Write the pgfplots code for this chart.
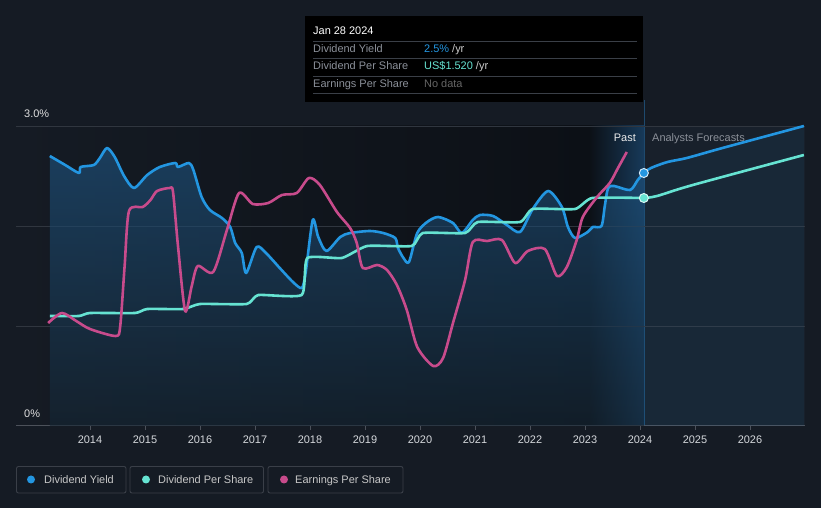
\documentclass[border=0pt]{standalone}
\usepackage{fontspec}
\setmainfont{Liberation Sans}
\usepackage{pgfplots}
\usepackage{pgfplotstable}
\pgfplotsset{compat=1.18}
\definecolor{bg}{HTML}{151B24}
\definecolor{darkbg}{HTML}{0C1016}
\definecolor{bandc}{HTML}{173A5A}
\definecolor{fcbg}{HTML}{18202B}
\definecolor{areatop}{HTML}{1F5684}
\definecolor{areabot}{HTML}{152634}
\definecolor{dyc}{HTML}{2396E1}
\definecolor{dpsc}{HTML}{66E3D2}
\definecolor{epsc}{HTML}{C84B8C}
\definecolor{gridc}{HTML}{30363F}
\definecolor{axisc}{HTML}{4C515A}
\definecolor{ticktext}{HTML}{D5D8DC}
\definecolor{graytext}{HTML}{8B9099}
\definecolor{legborder}{HTML}{3A3F48}
\definecolor{sepc}{HTML}{3A3F47}
\definecolor{vline}{HTML}{1E4A6E}
\newcommand{\ft}{\fontsize{11}{13}\selectfont}

\pgfplotstableread{
x y
2013.27 2.70
2013.55 2.61
2013.80 2.53
2013.83 2.59
2014.07 2.61
2014.18 2.68
2014.31 2.78
2014.45 2.69
2014.62 2.50
2014.80 2.38
2015.04 2.51
2015.27 2.59
2015.55 2.63
2015.60 2.59
2015.80 2.63
2015.88 2.56
2016.03 2.29
2016.18 2.16
2016.40 2.08
2016.55 1.99
2016.64 1.83
2016.76 1.73
2016.84 1.53
2017.03 1.79
2017.20 1.73
2017.45 1.58
2017.69 1.44
2017.85 1.38
2017.92 1.53
2018.05 2.06
2018.15 1.89
2018.30 1.75
2018.55 1.89
2018.73 1.93
2019.09 1.95
2019.33 1.93
2019.55 1.88
2019.60 1.78
2019.70 1.68
2019.80 1.64
2019.95 1.93
2020.13 2.04
2020.33 2.09
2020.60 2.03
2020.76 1.93
2020.96 2.06
2021.09 2.11
2021.33 2.10
2021.58 2.01
2021.82 1.94
2022.05 2.17
2022.33 2.35
2022.58 2.19
2022.69 1.99
2022.82 1.88
2023.05 1.94
2023.14 1.99
2023.30 2.00
2023.36 2.20
2023.42 2.38
2023.53 2.40
2023.82 2.36
2023.96 2.46
2024.07 2.53
}\dytab

\pgfplotstableread{
x y
2024.07 2.53
2024.20 2.58
2024.50 2.64
2024.85 2.68
2025.50 2.78
2026.98 3.00
}\dyfc

\pgfplotstableread{
x y
2013.27 1.10
2013.80 1.10
2014.00 1.13
2014.82 1.13
2015.04 1.17
2015.70 1.17
2016.00 1.22
2016.85 1.22
2017.06 1.31
2017.85 1.31
2017.95 1.68
2018.58 1.68
2019.04 1.80
2019.85 1.80
2020.05 1.93
2020.82 1.93
2021.05 2.04
2021.82 2.04
2022.05 2.17
2022.82 2.17
2023.13 2.28
2024.07 2.28
}\dpstab

\pgfplotstableread{
x y
2024.07 2.28
2024.31 2.30
2024.96 2.41
2026.98 2.71
}\dpsfc

\pgfplotstableread{
x y
2013.24 1.03
2013.49 1.13
2013.75 1.05
2014.00 0.97
2014.47 0.90
2014.55 1.00
2014.63 1.60
2014.71 2.15
2014.96 2.19
2015.10 2.26
2015.22 2.35
2015.45 2.38
2015.51 2.34
2015.60 1.80
2015.73 1.15
2015.85 1.40
2015.96 1.60
2016.24 1.54
2016.49 1.96
2016.71 2.33
2016.96 2.22
2017.24 2.23
2017.49 2.31
2017.76 2.33
2017.98 2.48
2018.18 2.41
2018.49 2.14
2018.73 1.98
2018.85 1.83
2018.96 1.58
2019.22 1.61
2019.40 1.56
2019.58 1.41
2019.76 1.16
2019.95 0.79
2020.24 0.60
2020.42 0.68
2020.60 1.03
2020.82 1.46
2020.96 1.84
2021.22 1.85
2021.49 1.86
2021.73 1.63
2021.96 1.75
2022.27 1.77
2022.49 1.50
2022.67 1.59
2022.85 1.86
2022.96 2.09
2023.22 2.29
2023.45 2.43
2023.60 2.58
2023.76 2.74
}\epstab

\begin{document}
\begin{tikzpicture}
\path[use as bounding box] (0,0) rectangle (821bp,508bp);
\begin{scope}[x=1bp,y=-1bp,shift={(0,508bp)}]
\fill[bg] (0,0) rectangle (821,508);
\fill[left color=bg, right color=darkbg] (16,126) rectangle (589,426);
\fill[left color=darkbg, right color=bandc] (589,126) rectangle (644,426);
\fill[fcbg] (644,126) rectangle (805,426);
\draw[vline, line width=0.8bp] (644.5,100) -- (644.5,426);
\end{scope}

\begin{axis}[
  at={(16bp,82bp)}, anchor=south west,
  scale only axis, width=789bp, height=300bp,
  xmin=2012.655, xmax=2027.0, ymin=0, ymax=3,
  clip=false,
  axis x line=bottom, axis y line=left,
  x axis line style={-, draw=axisc, line width=1bp},
  y axis line style={draw=none},
  xtick={2014,2015,...,2026},
  xticklabels={2014,2015,2016,2017,2018,2019,2020,2021,2022,2023,2024,2025,2026},
  xtick style={draw=axisc, line width=0.8bp},
  tick align=outside, major tick length=4bp,
  ytick={1,2,3}, yticklabels={}, ytick style={draw=none},
  ymajorgrids, grid style={draw=gridc, line width=0.8bp},
  xticklabel style={font=\ft, text=ticktext, inner sep=0pt, yshift=-6bp},
  /pgf/number format/assume math mode=true,
]
\addplot[draw=none, fill opacity=0.6, top color=areatop, bottom color=areabot, smooth, tension=0.45] table {\dytab} \closedcycle;
\addplot[draw=none, fill=dyc, fill opacity=0.07, smooth] table {\dyfc} \closedcycle;
\addplot[dyc, line width=2.6bp, smooth, tension=0.45, line join=round] table {\dytab};
\addplot[dyc, line width=2.6bp, smooth, tension=0.5] table {\dyfc};
\addplot[dpsc, line width=2.6bp, smooth, tension=0.3, line join=round] table {\dpstab};
\addplot[dpsc, line width=2.6bp, smooth, tension=0.5] table {\dpsfc};
\addplot[epsc, line width=2.6bp, smooth, tension=0.45, line join=round] table {\epstab};
\addplot[only marks, mark=*, mark size=4.5bp, color=dyc, mark options={solid, fill=dyc, draw=white!80!dyc, line width=1bp}] coordinates {(2024.07,2.53)};
\addplot[only marks, mark=*, mark size=4.5bp, color=dpsc, mark options={solid, fill=dpsc, draw=white!75!dpsc, line width=1bp}] coordinates {(2024.07,2.28)};
\end{axis}

\begin{scope}[x=1bp,y=-1bp,shift={(0,508bp)}]
\node[anchor=base east, inner sep=0pt, font=\ft, text=white!92!black] at (636,142) {Past};
\node[anchor=base west, inner sep=0pt, font=\ft, text=graytext] at (652,142) {Analysts Forecasts};
\node[anchor=base west, inner sep=0pt, font=\ft, text=white!88!black] at (24,118) {3.0\%};
\node[anchor=base west, inner sep=0pt, font=\ft, text=white!88!black] at (24,418) {0\%};
% tooltip
\fill[black] (305,16) rectangle (643,102);
\node[anchor=base west, inner sep=0pt, font=\ft, text=white] at (313,35) {Jan 28 2024};
\foreach \yy in {41,58,76,93} {\draw[sepc, line width=0.8bp] (313,\yy) -- (637,\yy);}
\node[anchor=base west, inner sep=0pt, font=\ft, text=graytext] at (313,53) {Dividend Yield};
\node[anchor=base west, inner sep=0pt, font=\ft, text=graytext] at (313,70) {Dividend Per Share};
\node[anchor=base west, inner sep=0pt, font=\ft, text=graytext] at (313,88) {Earnings Per Share};
\node[anchor=base west, inner sep=0pt, font=\ft] at (424,53) {\textcolor{dyc}{2.5\%}~\textcolor{white!80!black}{/yr}};
\node[anchor=base west, inner sep=0pt, font=\ft] at (424,70) {\textcolor{dpsc}{US\$1.520}~\textcolor{white!80!black}{/yr}};
\node[anchor=base west, inner sep=0pt, font=\ft, text=white!40!black] at (424,88) {No data};
% legend
\draw[legborder, line width=0.9bp, rounded corners=2bp, fill=bg] (16.5,466.5) rectangle (126,493);
\draw[legborder, line width=0.9bp, rounded corners=2bp, fill=bg] (130,466.5) rectangle (263.5,493);
\draw[legborder, line width=0.9bp, rounded corners=2bp, fill=bg] (268,466.5) rectangle (403,493);
\fill[dyc] (31,479.5) circle (4);
\fill[dpsc] (146,479.5) circle (4);
\fill[epsc] (284,479.5) circle (4);
\node[anchor=base west, inner sep=0pt, font=\ft, text=white!78!black] at (44,483.5) {Dividend Yield};
\node[anchor=base west, inner sep=0pt, font=\ft, text=white!78!black] at (158,483.5) {Dividend Per Share};
\node[anchor=base west, inner sep=0pt, font=\ft, text=white!78!black] at (295,483.5) {Earnings Per Share};
\end{scope}
\end{tikzpicture}
\end{document}
